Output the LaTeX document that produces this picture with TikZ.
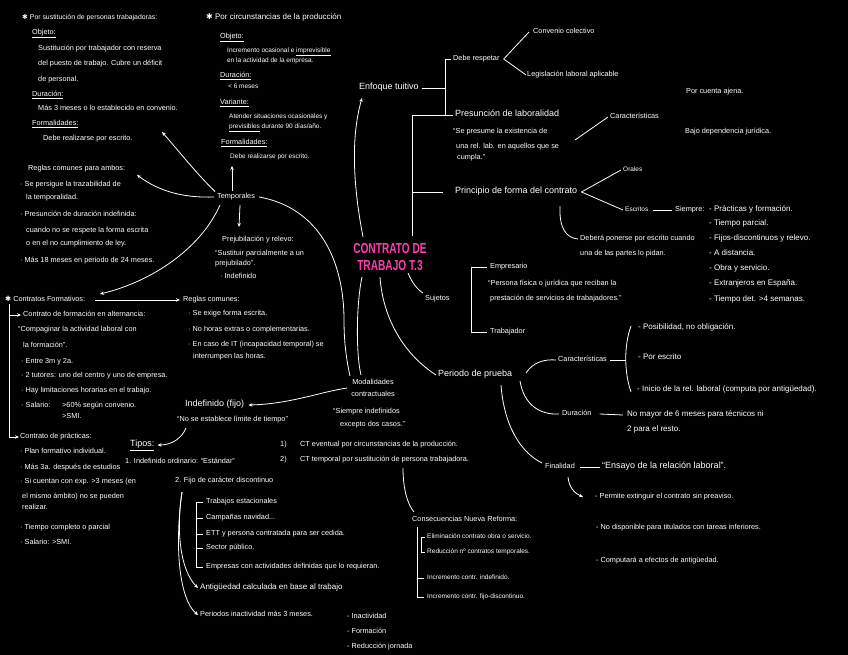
\documentclass[tikz,border=0pt]{standalone}
\usepackage{fontspec}
\usepackage{graphicx}
\setmainfont{Liberation Sans}
\newfontfamily\djv{DejaVu Sans}
\usetikzlibrary{arrows.meta}
\definecolor{titlepink}{HTML}{FF3DB0}
\newcommand\hstar{{\djv ✱}}
\newcommand\TN[5][]{\node[t,#1] (#2) at (#3,#4) {#5};}
\begin{document}
\begin{tikzpicture}[x=1pt,y=-1pt,
  t/.style={anchor=west,inner sep=0pt,text=white,font=\fontsize{7.3}{8}\selectfont,text height=5pt,text depth=1.5pt},
  s/.style={font=\fontsize{6.5}{7}\selectfont},
  m/.style={font=\fontsize{8}{9}\selectfont},
  b/.style={font=\fontsize{9}{10}\selectfont},
  ln/.style={draw=white,line width=0.8pt},
  ar/.style={ln,-{Stealth[length=4pt,width=3.5pt]}}]
\fill[black] (0,0) rectangle (848,655);
\useasboundingbox (0,0) rectangle (848,655);

% ---------- title
\node[anchor=center,align=center,inner sep=0pt,text=titlepink,font=\bfseries\fontsize{14.5}{17.5}\selectfont] (main) at (390,257) {\scalebox{0.7}[1]{CONTRATO DE}\\\scalebox{0.7}[1]{TRABAJO T.3}};

% ---------- top-left block
\TN[font=\fontsize{6.9}{8}\selectfont]{a0}{22}{18}{\hstar\ Por sustitución de personas trabajadoras:}
\TN{a1}{32}{33}{\underline{Objeto:}}
\TN{a2}{38}{49}{Sustitución por trabajador con reserva}
\TN{a3}{38}{64}{del puesto de trabajo. Cubre un déficit}
\TN{a4}{38}{80}{de personal.}
\TN{a5}{32}{95}{\underline{Duración:}}
\TN{a6}{38}{109}{Más 3 meses o lo establecido en convenio.}
\TN{a7}{32}{124}{\underline{Formalidades:}}
\TN{a8}{43}{139}{Debe realizarse por escrito.}

% ---------- second column
\TN[m]{c0}{206}{18}{\hstar\ Por circunstancias de la producción}
\TN{c1}{220}{37}{\underline{Objeto:}}
\TN[s]{c2}{227}{51}{Incremento ocasional e \underline{imprevisible}}
\TN[s]{c3}{227}{61}{en la actividad de la empresa.}
\TN{c4}{220}{76}{\underline{Duración:}}
\TN[s]{c5}{228}{87}{< 6 meses}
\TN{c6}{220}{103}{\underline{Variante:}}
\TN[s]{c7}{229}{117}{Atender situaciones ocasionales y}
\TN[s]{c8}{229}{127}{\underline{previsibles} durante 90 días/año.}
\TN{c9}{221}{143}{\underline{Formalidades:}}
\TN[s]{c10}{230}{157}{Debe realizarse por escrito.}

% ---------- Enfoque tuitivo
\TN[b]{enf}{359}{88}{Enfoque tuitivo}
\TN{dr}{453}{59}{Debe respetar}
\TN{cc}{533}{32}{Convenio colectivo}
\TN{lla}{527}{75}{Legislación laboral aplicable}
\TN[b]{pl}{455}{115}{Presunción de laboralidad}
\TN{pl1}{453}{132}{“Se presume la existencia de}
\TN{pl2}{456}{147}{una rel. lab. en aquellos que se}
\TN{pl3}{457}{158}{cumpla.”}
\TN{car1}{610}{117}{Características}
\TN{pca}{686}{92}{Por cuenta ajena.}
\TN{bdj}{685}{132}{Bajo dependencia jurídica.}
\TN[b]{pf}{455}{192}{Principio de forma del contrato}
\TN[s]{or}{623}{170}{Orales}
\TN[s]{esc}{625}{210}{Escritos}
\TN{sie}{675}{210}{Siempre:}
\TN[m]{l1}{709}{210}{- Prácticas y formación.}
\TN[m]{l2}{709}{224}{- Tiempo parcial.}
\TN[m]{l3}{709}{239}{- Fijos-discontinuos y relevo.}
\TN[m]{l4}{709}{254}{- A distancia.}
\TN[m]{l5}{709}{269}{- Obra y servicio.}
\TN[m]{l6}{709}{284}{- Extranjeros en España.}
\TN[m]{l7}{709}{300}{- Tiempo det. >4 semanas.}
\TN{deb1}{580}{239}{Deberá ponerse por escrito cuando}
\TN{deb2}{580}{254}{una de las partes lo pidan.}

\coordinate (brT) at (445,59);
\coordinate (brB) at (445,115);
\coordinate (brM) at (445,88);
\coordinate (vT) at (412,115);
\coordinate (vM) at (412,192);
\coordinate (vB) at (412,236);
\draw[ar] (363,237) .. controls (354,190) and (350,140) .. (362,98);
\draw[ln] ([xshift=3pt]enf.east) -- (brM);
\draw[ln] ([xshift=-2pt]dr.west) -- (brT) -- (brB) -- ([xshift=-2pt]pl.west);
\draw[ln] (vB) -- (vT) -- (brB);
\draw[ln] (vM) -- ([xshift=-12pt]pf.west);
\draw[ln] ([xshift=4pt]dr.east) -- ([xshift=-4pt]cc.west);
\draw[ln] ([xshift=4pt]dr.east) -- ([xshift=-1pt]lla.west);
\draw[ln] (575,140) -- ([xshift=-2pt]car1.west);
\draw[ln] ([xshift=4pt]pf.east) -- ([xshift=-2pt]or.west);
\draw[ln] ([xshift=4pt]pf.east) -- ([xshift=-2pt]esc.west);
\draw[ln] ([xshift=4pt]esc.east) -- ([xshift=-3pt]sie.west);
\draw[ln] (560,206) .. controls (559,228) and (566,238) .. ([xshift=-2pt]deb1.west);

% ---------- Sujetos
\TN{suj}{425}{299}{Sujetos}
\TN{emp}{490}{267}{Empresario}
\TN{emp1}{488}{284}{“Persona física o jurídica que reciban la}
\TN{emp2}{490}{299}{prestación de servicios de trabajadores.”}
\TN{trab}{490}{332}{Trabajador}
\draw[ln] (408,273) .. controls (412,283) and (418,290) .. (423,293);
\draw[ln] ([xshift=-3pt]emp.west) -- (471,267) -- (471,332) -- ([xshift=-3pt]trab.west);

% ---------- Periodo de prueba
\TN[b]{pp}{438}{375}{Periodo de prueba}
\TN{car2}{558}{360}{Características}
\TN[m]{pp1}{638}{328}{- Posibilidad, no obligación.}
\TN[m]{pp2}{638}{358}{- Por escrito}
\TN[m]{pp3}{637}{390}{- Inicio de la rel. laboral (computa por antigüedad).}
\TN{dur}{562}{414}{Duración}
\TN[m]{du1}{627}{415}{No mayor de 6 meses para técnicos ni}
\TN[m]{du2}{627}{430}{2 para el resto.}
\TN{fin}{545}{467}{Finalidad}
\TN[b]{fi1}{602}{467}{“Ensayo de la relación laboral”.}
\TN{fi2}{595}{497}{- Permite extinguir el contrato sin preaviso.}
\TN{fi3}{596}{528}{- No disponible para titulados con tareas inferiores.}
\TN{fi4}{596}{561}{- Computará a efectos de antigüedad.}
\draw[ln] (380,277) .. controls (383,320) and (405,355) .. ([xshift=-2pt]pp.west);
\draw[ln] (526,373) .. controls (533,362) and (545,359) .. ([xshift=-2pt]car2.west);
\draw[ln] ([xshift=3pt]car2.east) -- (626,360);
\draw[ln] (631,326) .. controls (624,345) and (624,372) .. (631,392);
\draw[ln] (520,381) .. controls (524,405) and (540,415) .. ([xshift=-3pt]dur.west);
\draw[ln] ([xshift=8pt]dur.east) -- ([xshift=-4pt]du1.west);
\draw[ln] (501,385) .. controls (504,425) and (520,452) .. (542,463);
\draw[ln] ([xshift=5pt]fin.east) -- ([xshift=-2pt]fi1.west);
\draw[ar] (568,477) .. controls (569,487) and (574,493) .. ([xshift=-12pt]fi2.west);

% ---------- Modalidades
\node[anchor=center,align=center,inner sep=0pt,text=white,font=\fontsize{7.3}{12}\selectfont] (mod) at (373,388) {Modalidades\\contractuales};
\TN{si1}{333}{412}{“Siempre indefinidos}
\TN{si2}{340}{425}{excepto dos casos.”}
\TN{ct1n}{280}{445}{1)}
\TN{ct1}{300}{445}{CT eventual por circunstancias de la producción.}
\TN{ct2n}{280}{460}{2)}
\TN{ct2}{300}{460}{CT temporal por sustitución de persona trabajadora.}
\draw[ln] (362,277) .. controls (356,305) and (356,355) .. (361,375);

% ---------- Consecuencias
\TN{cons}{412}{520}{Consecuencias Nueva Reforma:}
\TN[s]{cn1}{427}{537}{Eliminación contrato obra o servicio.}
\TN[s]{cn2}{427}{552}{Reducción nº contratos temporales.}
\TN[s]{cn3}{427}{578}{Incremento contr. indefinido.}
\TN[s]{cn4}{427}{597}{Incremento contr. fijo-discontinuo.}
\draw[ln] (403,468) .. controls (403,490) and (408,505) .. (414,512);
\draw[ln] (417,527) -- (417,597) -- ([xshift=-3pt]cn4.west);
\draw[ln] ([xshift=-3pt]cn3.west) -- (417,578);
\draw[ln] ([xshift=-2pt]cn1.west) -- (421,537) -- (421,552) -- ([xshift=-2pt]cn2.west);

% ---------- Indefinido
\TN[b]{ind}{185}{405}{Indefinido (fijo)}
\TN{ind1}{177}{420}{“No se establece límite de tiempo”}
\TN[b]{tip}{130}{445}{\underline{Tipos:}}
\TN{t1}{125}{462}{1. Indefinido ordinario: “Estándar”}
\TN{t2}{175}{481}{2. Fijo de carácter discontinuo}
\TN{f1}{206}{502}{Trabajos estacionales}
\TN{f2}{206}{518}{Campañas navidad...}
\TN{f3}{206}{534}{ETT y persona contratada para ser cedida.}
\TN{f4}{206}{548}{Sector público.}
\TN{f5}{206}{567}{Empresas con actividades definidas que lo requieran.}
\TN[m]{f6}{200}{588}{Antigüedad calculada en base al trabajo}
\TN{f7}{200}{615}{Periodos inactividad más 3 meses.}
\TN{r1}{347}{617}{- Inactividad}
\TN{r2}{347}{632}{- Formación}
\TN{r3}{347}{647}{- Reducción jornada}
\draw[ar] ([xshift=-4pt]mod.west) .. controls (320,392) and (290,404) .. ([xshift=4pt]ind.east);
\draw[ar] (186,428) .. controls (182,438) and (172,445) .. ([xshift=3pt]tip.east);
\draw[ln] ([xshift=-3pt]f1.west) -- (196,502) -- (196,567) -- ([xshift=-3pt]f5.west);
\foreach \n in {f2,f3,f4} \draw[ln] (196,0 |- \n.west) -- ([xshift=-3pt]\n.west);
\draw[ar] (182,492) .. controls (176,530) and (180,570) .. ([xshift=-2pt]f6.west);
\draw[ar] (182,492) .. controls (174,550) and (180,600) .. ([xshift=-2pt]f7.west);

% ---------- Temporales
\TN{temp}{217}{197}{Temporales}
\TN{prej}{222}{240}{Prejubilación y relevo:}
\TN{prej1}{215}{254}{“Sustituir parcialmente a un}
\TN{prej2}{215}{264}{prejubilado”.}
\TN{prej3}{220}{277}{· Indefinido}
\draw[ar] ([xshift=-2pt,yshift=2pt]temp.north west) .. controls (195,172) and (178,150) .. (162,132);
\draw[ar] (232,191) -- (232,166);
\draw[ar] ([xshift=-3pt]temp.west) .. controls (185,198) and (160,192) .. (137,175);
\draw[ar] (220,205) .. controls (200,250) and (150,282) .. (100,294);
\draw[ar] (240,205) -- (239,227);
\draw[ln] ([xshift=4pt]temp.east) .. controls (320,208) and (344,262) .. (344,320) .. controls (344,345) and (347,362) .. (350,376);

% ---------- Reglas comunes para ambos
\TN{rc0}{28}{169}{Reglas comunes para ambos:}
\TN{rc1}{20}{185}{· Se persigue la trazabilidad de}
\TN{rc2}{26}{198}{la temporalidad.}
\TN{rc3}{20}{215}{· Presunción de duración indefinida:}
\TN{rc4}{26}{231}{cuando no se respete la forma escrita}
\TN{rc5}{26}{244}{o en el no cumplimiento de ley.}
\TN{rc6}{20}{261}{· Más 18 meses en periodo de 24 meses.}

% ---------- Contratos formativos
\TN{cf}{5}{300}{\hstar\ Contratos Formativos:}
\TN{rcm}{183}{300}{Reglas comunes:}
\TN{rcm1}{188}{314}{· Se exige forma escrita.}
\TN{rcm2}{188}{330}{· No horas extras o complementarias.}
\TN{rcm3}{188}{345}{· En caso de IT (incapacidad temporal) se}
\TN{rcm4}{193}{357}{interrumpen las horas.}
\draw[ar] ([xshift=10pt]cf.east) -- ([xshift=-3pt]rcm.west);
\TN{fa}{23}{315}{Contrato de formación en alternancia:}
\TN{fa1}{18}{330}{“Compaginar la actividad laboral con}
\TN{fa2}{23}{346}{la formación”.}
\TN{fa3}{21}{362}{· Entre 3m y 2a.}
\TN{fa4}{21}{376}{· 2 tutores: uno del centro y uno de empresa.}
\TN{fa5}{21}{391}{· Hay limitaciones horarias en el trabajo.}
\TN{fa6}{21}{406}{· Salario:}
\TN{fa6b}{62}{406}{>60\% según convenio.}
\TN{fa7}{62}{417}{>SMI.}
\TN{pr}{20}{437}{Contrato de prácticas:}
\TN{pr1}{20}{452}{· Plan formativo individual.}
\TN{pr2}{20}{468}{· Más 3a. después de estudios}
\TN{pr3}{20}{482}{· Si cuentan con exp. >3 meses (en}
\TN{pr4}{22}{497}{el mismo ámbito) no se pueden}
\TN{pr5}{22}{508}{realizar.}
\TN{pr6}{20}{528}{· Tiempo completo o parcial}
\TN{pr7}{20}{543}{· Salario: >SMI.}
\draw[ar] (9,304) -- (9,437) -- ([xshift=-1pt]pr.west);
\draw[ar] (9,315) -- ([xshift=-2pt]fa.west);
\end{tikzpicture}
\end{document}
